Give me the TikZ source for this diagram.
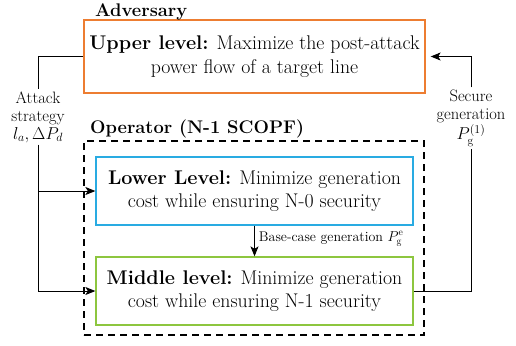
\documentclass[tikz,border=0pt]{standalone}
\usepackage{fontspec}
\usetikzlibrary{arrows.meta}
\definecolor{borange}{RGB}{237,125,49}
\definecolor{bblue}{RGB}{41,171,226}
\definecolor{bgreen}{RGB}{141,198,63}
\begin{document}
\begin{tikzpicture}[x=1bp,y=-1bp,
  lvl/.style={draw,line width=1.3bp,align=center,inner sep=0pt,
    font=\fontsize{19.8bp}{23.3bp}\selectfont},
  ttl/.style={anchor=base west,inner sep=0pt,font=\fontsize{18.3bp}{23bp}\selectfont\bfseries},
  lbl/.style={align=center,inner sep=2bp,font=\fontsize{16.5bp}{18bp}\selectfont},
  arr/.style={-{Stealth[length=10bp,width=8bp,inset=2.5bp]},line width=0.9bp},
  ln/.style={line width=0.9bp}]
\useasboundingbox (0,0) rectangle (516,345);
% boxes
\node[lvl,draw=borange,minimum width=341bp,minimum height=73bp] (upper) at (254.5,56.5)
  {\textbf{Upper level:} Maximize the post-attack\\power flow of a target line};
\node[draw,line width=1.3bp,dash pattern=on 7bp off 5bp,minimum width=340bp,minimum height=194bp,inner sep=0pt] (oper) at (254,238) {};
\node[lvl,draw=bblue,minimum width=317bp,minimum height=68bp] (lower) at (254.5,191)
  {\textbf{Lower Level:} Minimize generation\\cost while ensuring N-0 security};
\node[lvl,draw=bgreen,minimum width=317bp,minimum height=68bp] (middle) at (254.5,291)
  {\textbf{Middle level:} Minimize generation\\cost while ensuring N-1 security};
% titles
\node[ttl] (adv) at (95,16) {Adversary};
\node[ttl] (op) at (90,133) {Operator (N-1 SCOPF)};
% side labels
\node[lbl] (atk) at (38,117) {Attack\\strategy\\$l_a,\Delta P_d$};
\node[lbl] (sec) at (471,118) {Secure\\generation\\[1bp]$P_{\mathrm{g}}^{(1)}$};
% connectors
\draw[ln] (upper.west) -| (atk.north);
\draw[arr] (atk.south) |- (middle.west);
\draw[arr] (atk.south |- lower.west) -- (lower.west);
\draw[ln] (middle.east) -| (sec.south);
\draw[arr,shorten >=5bp] (sec.north) |- (upper.east);
\draw[arr] (lower.south) -- (middle.north)
  node[midway,right,xshift=2bp,yshift=2bp,inner sep=2bp,font=\fontsize{14bp}{16bp}\selectfont] (base)
  {Base-case generation $P_{\mathrm{g}}^{\mathrm{e}}$};
\end{tikzpicture}
\end{document}
